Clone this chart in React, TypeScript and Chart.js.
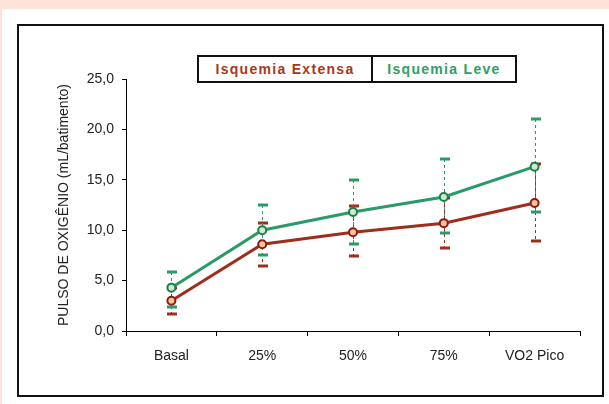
import React, { useEffect, useRef } from "react";
import { Chart, registerables } from "chart.js";
Chart.register(...registerables);

const categories = ["Basal", "25%", "50%", "75%", "VO2 Pico"];
const extensaMean = [3.0, 8.6, 9.8, 10.7, 12.7];
const extensaLow = [1.7, 6.4, 7.45, 8.2, 8.9];
const extensaHigh = [4.3, 10.7, 12.4, 13.2, 16.6];
const leveMean = [4.3, 10.0, 11.8, 13.3, 16.3];
const leveLow = [2.4, 7.5, 8.6, 9.7, 11.8];
const leveHigh = [5.9, 12.5, 14.95, 17.1, 21.0];
const yTicks = [0, 5, 10, 15, 20, 25];

const RED = "#9e2e1c";
const GREEN = "#2a9a66";
const FONT = "'Liberation Sans', Arial, sans-serif";

const errorBarPlugin = {
  id: "errorBars",
  beforeDatasetsDraw(chart: any) {
    const { ctx } = chart;
    const x = chart.scales.x;
    const y = chart.scales.y;
    const sets = [
      { low: extensaLow, high: extensaHigh, color: RED },
      { low: leveLow, high: leveHigh, color: GREEN },
    ];
    ctx.save();
    sets.forEach((s) => {
      categories.forEach((_c, i) => {
        const px = Math.round(x.getPixelForValue(i));
        const yl = Math.round(y.getPixelForValue(s.low[i]));
        const yh = Math.round(y.getPixelForValue(s.high[i]));
        ctx.strokeStyle = s.color;
        ctx.lineWidth = 1;
        ctx.setLineDash([3, 3]);
        ctx.beginPath();
        ctx.moveTo(px + 0.5, yh);
        ctx.lineTo(px + 0.5, yl);
        ctx.stroke();
        ctx.setLineDash([]);
        ctx.lineWidth = 3;
        [yl, yh].forEach((yy) => {
          ctx.beginPath();
          ctx.moveTo(px - 4, yy);
          ctx.lineTo(px + 6, yy);
          ctx.stroke();
        });
      });
    });
    ctx.restore();
  },
};

export default function App() {
  const ref = useRef<HTMLCanvasElement | null>(null);
  useEffect(() => {
    if (!ref.current) return;
    const chart = new Chart(ref.current, {
      type: "line",
      data: {
        labels: categories,
        datasets: [
          {
            label: "Isquemia Extensa",
            data: extensaMean,
            borderColor: RED,
            borderWidth: 3,
            pointRadius: 4,
            pointBorderWidth: 2,
            pointBackgroundColor: "#f7c491",
            pointBorderColor: "#8a1a1a",
            tension: 0,
          },
          {
            label: "Isquemia Leve",
            data: leveMean,
            borderColor: GREEN,
            borderWidth: 3,
            pointRadius: 4,
            pointBorderWidth: 2,
            pointBackgroundColor: "#cdebcf",
            pointBorderColor: "#1d7f48",
            tension: 0,
          },
        ],
      },
      options: {
        responsive: false,
        animation: false,
        devicePixelRatio: 1,
        layout: { padding: { top: 79, right: 29, left: 0, bottom: 0 } },
        plugins: { legend: { display: false }, tooltip: { enabled: false } },
        scales: {
          x: {
            type: "category",
            offset: true,
            grid: { offset: true, drawOnChartArea: false, tickLength: 5, color: "#000" },
            border: { color: "#000", width: 1 },
            ticks: { color: "#222", font: { family: FONT, size: 14 }, padding: 12 },
            afterFit(s: any) {
              s.height = 73;
            },
          },
          y: {
            min: 0,
            max: 25,
            afterBuildTicks(s: any) {
              s.ticks = yTicks.map((v) => ({ value: v }));
            },
            ticks: {
              color: "#222",
              font: { family: FONT, size: 14 },
              padding: 8,
              callback: (v: any) => Number(v).toFixed(1).replace(".", ","),
            },
            grid: { drawOnChartArea: false, tickLength: 4, color: "#000" },
            border: { color: "#000", width: 1 },
            title: {
              display: true,
              text: "PULSO DE OXIGÊNIO (mL/batimento)",
              color: "#222",
              font: { family: FONT, size: 14 },
              padding: { top: 56, bottom: 0 },
            },
            afterFit(s: any) {
              s.width = 126;
            },
          },
        },
      },
      plugins: [errorBarPlugin],
    } as any);
    return () => chart.destroy();
  }, []);

  return (
    <div style={{ position: "fixed", left: 0, top: 0, width: 609, height: 404, background: "#fde3d8", overflow: "hidden" }}>
      <div style={{ position: "absolute", left: 2, top: 9, width: 607, height: 395, background: "#fff" }} />
      <div
        style={{
          position: "absolute",
          left: 17,
          top: 24,
          width: 587,
          height: 373,
          border: "2px solid #111",
          boxSizing: "border-box",
        }}
      />
      <div
        style={{
          position: "absolute",
          left: 197,
          top: 55,
          width: 320,
          height: 28,
          border: "2px solid #111",
          boxSizing: "border-box",
          display: "flex",
          fontFamily: FONT,
          fontWeight: "bold",
          fontSize: 14,
          letterSpacing: "1.3px",
        }}
      >
        <div style={{ width: 172, borderRight: "2px solid #111", color: "#a33a20", textAlign: "center", lineHeight: "24px" }}>
          Isquemia Extensa
        </div>
        <div style={{ flex: 1, color: "#2f9e68", textAlign: "center", lineHeight: "24px" }}>Isquemia Leve</div>
      </div>
      <canvas ref={ref} width={609} height={404} style={{ position: "absolute", left: 0, top: 0, width: 609, height: 404 }} />
    </div>
  );
}
